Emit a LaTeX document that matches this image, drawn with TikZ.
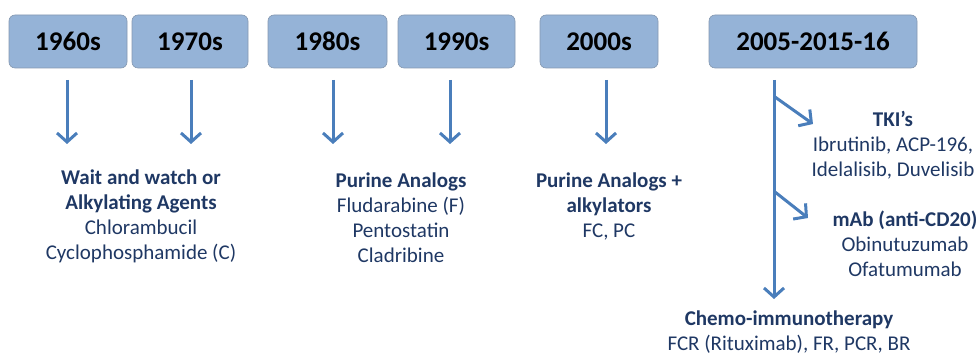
\documentclass[tikz,border=0pt]{standalone}
\usepackage{fontspec}
\setmainfont{Carlito}
\usetikzlibrary{arrows.meta}
\definecolor{boxfill}{HTML}{95B3D7}
\definecolor{boxline}{HTML}{8497B0}
\definecolor{arrowblue}{HTML}{4A7EBB}
\definecolor{navy}{HTML}{1F3864}
\tikzset{
  yearbox/.style={draw=boxline, line width=0.6pt, fill=boxfill, rounded corners=6pt,
    minimum height=53pt, inner sep=0pt, font=\fontsize{27}{32}\selectfont\bfseries, text=black},
  arr/.style={draw=arrowblue, line width=3pt,
    -{Straight Barb[length=9pt,width=20pt,line width=3pt]}},
  txt/.style={align=center, text=navy, font=\fontsize{21}{25}\selectfont, inner sep=0pt}
}
\begin{document}
\begin{tikzpicture}[x=1pt,y=-1pt]
\useasboundingbox (0,0) rectangle (980,355);
% year boxes
\node[yearbox, minimum width=118pt] (b1) at (68,41.5) {1960s};
\node[yearbox, minimum width=116pt] (b2) at (190,41.5) {1970s};
\node[yearbox, minimum width=119pt] (b3) at (327.5,41.5) {1980s};
\node[yearbox, minimum width=117pt] (b4) at (456.5,41.5) {1990s};
\node[yearbox, minimum width=118pt] (b5) at (599,41.5) {2000s};
\node[yearbox, minimum width=208pt] (b6) at (813,41.5) {2005-2015-16};
% arrow endpoints
\coordinate (s1) at (67,80);  \coordinate (e1) at (67,144);
\coordinate (s2) at (191,80); \coordinate (e2) at (191,144);
\coordinate (s3) at (333,80); \coordinate (e3) at (333,144);
\coordinate (s4) at (450,80); \coordinate (e4) at (450,144);
\coordinate (s5) at (606,80); \coordinate (e5) at (606,144);
\coordinate (s6) at (774,80); \coordinate (e6) at (774,299);
\coordinate (d1s) at (775,97);  \coordinate (d1e) at (813,124);
\coordinate (d2s) at (775,192); \coordinate (d2e) at (808,218);
\draw[arr] (s1) -- (e1);
\draw[arr] (s2) -- (e2);
\draw[arr] (s3) -- (e3);
\draw[arr] (s4) -- (e4);
\draw[arr] (s5) -- (e5);
\draw[arr] (s6) -- (e6);
\draw[arr] (d1s) -- (d1e);
\draw[arr] (d2s) -- (d2e);
% texts
\node[txt] (t1) at (141,216) {\textbf{Wait and watch or}\\\textbf{Alkylating Agents}\\Chlorambucil\\Cyclophosphamide (C)};
\node[txt] (t2) at (401,218) {\textbf{Purine Analogs}\\Fludarabine (F)\\Pentostatin\\Cladribine};
\node[txt] (t3) at (609,206) {\textbf{Purine Analogs +}\\\textbf{alkylators}\\FC, PC};
\node[txt] (t4) at (893,145) {\textbf{TKI’s}\\Ibrutinib, ACP-196,\\Idelalisib, Duvelisib};
\node[txt] (t5) at (905,244) {\textbf{mAb (anti-CD20)}\\Obinutuzumab\\Ofatumumab};
\node[txt] (t6) at (789,332) {\textbf{Chemo-immunotherapy}\\FCR (Rituximab), FR, PCR, BR};
\end{tikzpicture}
\end{document}
